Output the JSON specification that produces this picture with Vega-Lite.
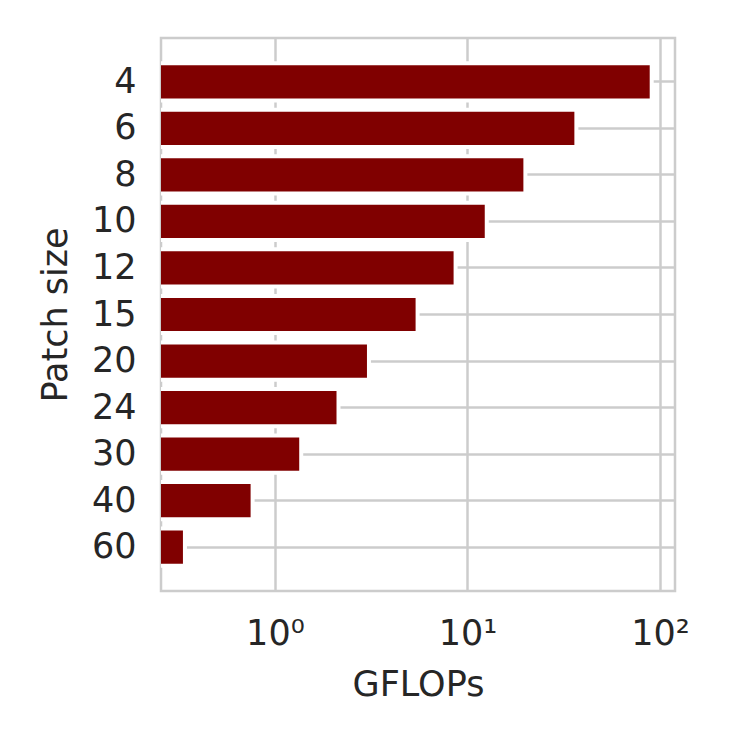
{
  "$schema": "https://vega.github.io/schema/vega-lite/v6.json",
  "width": 514,
  "height": 553,
  "autosize": "none",
  "padding": {"left": 161, "top": 38, "right": 54, "bottom": 164},
  "background": "white",
  "config": {
    "view": {"stroke": "#cccccc", "strokeWidth": 2.5},
    "font": "DejaVu Sans",
    "axis": {
      "labelFont": "DejaVu Sans",
      "titleFont": "DejaVu Sans",
      "labelColor": "#262626",
      "titleColor": "#262626",
      "labelFontSize": 35,
      "titleFontSize": 35,
      "titleFontWeight": "normal",
      "gridColor": "#cccccc",
      "gridWidth": 2.5,
      "gridOpacity": 1,
      "ticks": false,
      "domain": false
    }
  },
  "data": {
    "values": [
      {"patch": 4, "gflops": 90.6},
      {"patch": 6, "gflops": 36.8},
      {"patch": 8, "gflops": 20.0},
      {"patch": 10, "gflops": 12.6},
      {"patch": 12, "gflops": 8.68},
      {"patch": 15, "gflops": 5.51},
      {"patch": 20, "gflops": 3.08},
      {"patch": 24, "gflops": 2.14},
      {"patch": 30, "gflops": 1.37},
      {"patch": 40, "gflops": 0.766},
      {"patch": 60, "gflops": 0.341}
    ]
  },
  "mark": {"type": "bar", "color": "#800000", "stroke": "white", "strokeWidth": 4, "clip": true},
  "encoding": {
    "y": {
      "field": "patch",
      "type": "ordinal",
      "sort": [4, 6, 8, 10, 12, 15, 20, 24, 30, 40, 60],
      "scale": {"paddingInner": 0.2, "paddingOuter": 0.54},
      "axis": {
        "title": "Patch size",
        "grid": true,
        "labelPadding": 25,
        "titlePadding": 18
      }
    },
    "x": {
      "field": "gflops",
      "type": "quantitative",
      "scale": {"type": "log", "domain": [0.2561, 119.7], "nice": false},
      "axis": {
        "title": "GFLOPs",
        "values": [1, 10, 100],
        "grid": true,
        "labelExpr": "datum.value == 1 ? '10⁰' : datum.value == 10 ? '10¹' : '10²'",
        "labelPadding": 25,
        "titlePadding": 16,
        "labelFlush": false
      }
    },
    "x2": {"datum": 0.1}
  }
}
